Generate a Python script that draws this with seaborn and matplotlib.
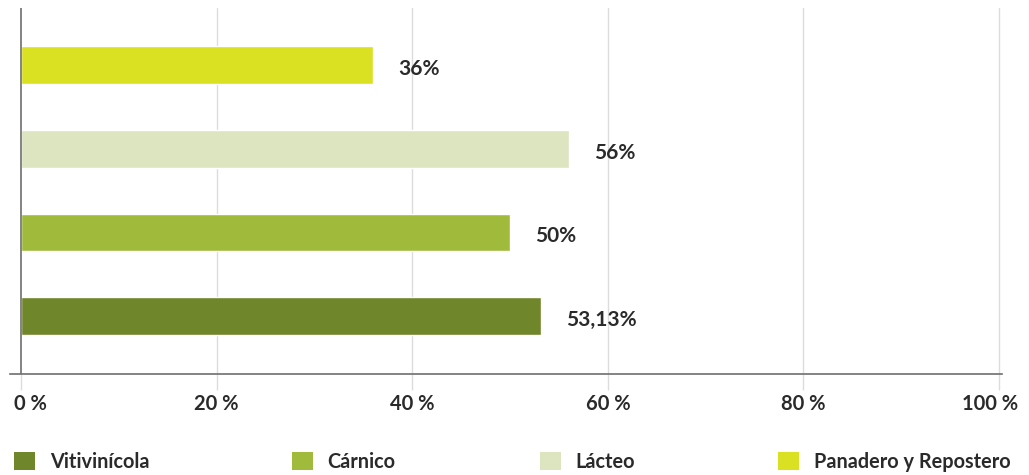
import matplotlib
matplotlib.use("Agg")
import matplotlib.pyplot as plt
from matplotlib.patches import Patch
from matplotlib.transforms import ScaledTranslation
import seaborn as sns
import pandas as pd

# Sectors, top to bottom, and their shares (%)
sectors = ["Panadero y Repostero", "Lácteo", "Cárnico", "Vitivinícola"]
shares = [36, 56, 50, 53.13]
share_labels = ["36%", "56%", "50%", "53,13%"]
colors = ["#DAE022", "#DCE4C0", "#A0BB3C", "#70862A"]
legend_order = ["Vitivinícola", "Cárnico", "Lácteo", "Panadero y Repostero"]
x_ticks = [0, 20, 40, 60, 80, 100]
x_tick_labels = ["0 %", "20 %", "40 %", "60 %", "80 %", "100 %"]

sns.set_theme(style="white")
plt.rcParams["font.family"] = ["Lato", "DejaVu Sans"]

df = pd.DataFrame({"sector": sectors, "share": shares})
palette = dict(zip(sectors, colors))

W, H = 1029, 475
fig = plt.figure(figsize=(W / 100, H / 100), dpi=100)
ax = fig.add_axes([10 / W, 1 - 374 / H, (1002 - 10) / W, (374 - 8) / H])

sns.barplot(data=df, y="sector", x="share", hue="sector", palette=palette,
            order=sectors, hue_order=sectors, orient="h", width=0.45,
            dodge=False, legend=False, saturation=1, ax=ax, zorder=3)

ax.set_xlim(-1.12, 100.3)
ax.set_ylim(3.69, -0.68)
ax.set_xlabel("")
ax.set_ylabel("")
ax.set_yticks([])

# light vertical gridlines, the 0 line in dark grey
for t in x_ticks[1:]:
    ax.axvline(t, color="#dcdcdc", lw=1.0, zorder=1)
ax.axvline(0, color="#6e6e6e", lw=1.2, zorder=4)

ax.set_xticks(x_ticks)
ax.set_xticklabels(x_tick_labels, fontsize=14.5, fontweight="bold", color="#2a2a2a")
ax.tick_params(axis="x", which="major", bottom=True, length=11.5, width=1.0,
               color="#dcdcdc", pad=3)
ax.xaxis.get_major_ticks()[0].tick1line.set_color("#6e6e6e")

# keep the end labels inside the plotting width
labels = ax.get_xticklabels()
labels[0].set_transform(labels[0].get_transform() + ScaledTranslation(9 / 100, 0, fig.dpi_scale_trans))
labels[-1].set_transform(labels[-1].get_transform() + ScaledTranslation(-9 / 100, 0, fig.dpi_scale_trans))

for side in ["top", "right", "left"]:
    ax.spines[side].set_visible(False)
ax.spines["bottom"].set_color("#6e6e6e")
ax.spines["bottom"].set_linewidth(1.2)
ax.spines["bottom"].set_zorder(5)

# value labels right of each bar
for i, (v, lab) in enumerate(zip(shares, share_labels)):
    ax.annotate(lab, xy=(v, i), xytext=(25, -4), textcoords="offset pixels",
                ha="left", va="center", fontsize=15, fontweight="bold",
                color="#2a2a2a")

# legend entries spread across the bottom
legend_x = [14, 292, 540, 778]
for name, xpx in zip(legend_order, legend_x):
    handle = Patch(facecolor=palette[name], edgecolor="none")
    fig.legend(handles=[handle], labels=[name], loc="center left",
               bbox_to_anchor=(xpx / W, 1 - 462 / H), frameon=False,
               borderpad=0, borderaxespad=0, handlelength=1.05, handleheight=1.0,
               handletextpad=0.75, prop={"size": 14.3, "weight": "bold"},
               labelcolor="#2a2a2a")

fig.savefig("out.png", dpi=100)
